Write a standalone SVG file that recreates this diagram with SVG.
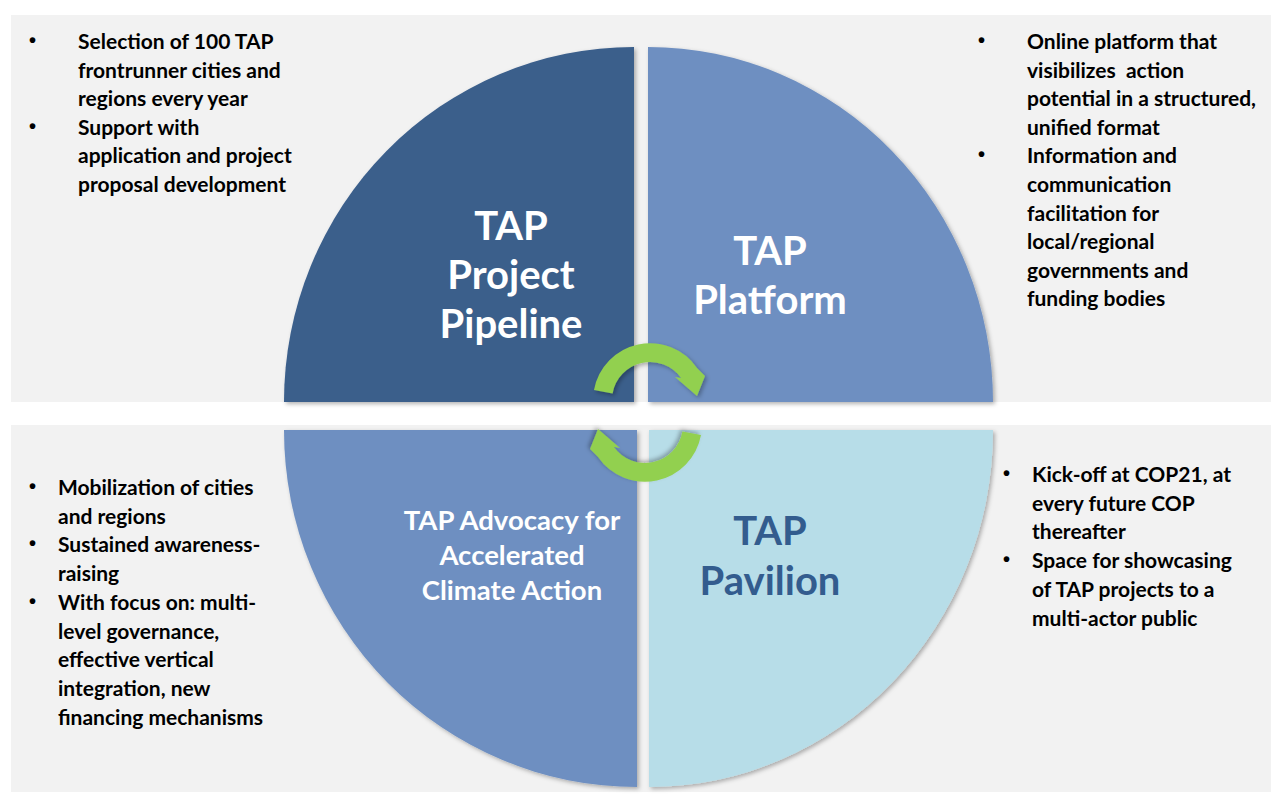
<svg xmlns="http://www.w3.org/2000/svg" width="1271" height="794" viewBox="0 0 1271 794">
<style>
.bg{fill:#F2F2F2}
.bul{font-family:Lato,"Liberation Sans",sans-serif;font-weight:bold;font-size:21px;fill:#000}
.dot{font-family:"Liberation Sans",sans-serif;font-weight:bold;font-size:20px;fill:#000}
.big{font-family:Lato,"Liberation Sans",sans-serif;font-weight:bold;font-size:40px;text-anchor:middle}
.mid{font-family:Lato,"Liberation Sans",sans-serif;font-weight:bold;font-size:27.5px;text-anchor:middle;fill:#fff}
.arrow{fill:#92D050}
</style>
<defs>
<filter id="sh" x="-10%" y="-10%" width="120%" height="120%">
<feDropShadow dx="2" dy="2" stdDeviation="2" flood-color="#000" flood-opacity="0.3"/>
</filter>
</defs>
<rect width="1271" height="794" fill="#fff"/>
<rect class="bg" x="11" y="15" width="1260" height="387"/>
<rect class="bg" x="11" y="425" width="1260" height="367"/>

<g id="pipeline">
<path d="M634,402 L284,402 A350 355 0 0 1 634,47 Z" fill="#3A5E8B" filter="url(#sh)"/>
<text class="big" fill="#fff"><tspan x="511" y="240">TAP</tspan><tspan x="511" y="289">Project</tspan><tspan x="511" y="338">Pipeline</tspan></text>
</g>
<g id="platform">
<path d="M648,402 L648,47 A345 355 0 0 1 993,402 Z" fill="#6E8FC1" filter="url(#sh)"/>
<text class="big" fill="#fff"><tspan x="770" y="265">TAP</tspan><tspan x="770" y="314">Platform</tspan></text>
</g>
<g id="advocacy">
<path d="M637,430 L637,787 A353 357 0 0 1 284,430 Z" fill="#6E8FC1" filter="url(#sh)"/>
<text class="mid"><tspan x="512" y="530">TAP Advocacy for</tspan><tspan x="512" y="565">Accelerated</tspan><tspan x="512" y="600">Climate Action</tspan></text>
</g>
<g id="pavilion">
<path d="M649,430 L993,430 A344 357 0 0 1 649,787 Z" fill="#B7DDE8" filter="url(#sh)"/>
<text class="big" fill="#335C8E"><tspan x="770" y="545">TAP</tspan><tspan x="770" y="595">Pavilion</tspan></text>
</g>

<g id="connectors">
<path class="arrow" filter="url(#sh)" d="M594,390 A57 57 0 0 1 697,368 L705,376 L697,396 L675,377 L681,378 A38 38 0 0 0 612.6,393.4 Z"/>
<path class="arrow" filter="url(#sh)" transform="rotate(180 647.5 412.5)" d="M594,390 A57 57 0 0 1 697,368 L705,376 L697,396 L675,377 L681,378 A38 38 0 0 0 612.6,393.4 Z"/>
</g>

<g id="pipeline-notes">
<text class="dot" x="29" y="47">•</text>
<text class="bul" x="78" y="49">Selection of 100 TAP</text>
<text class="bul" x="78" y="77.5">frontrunner cities and</text>
<text class="bul" x="78" y="106">regions every year</text>
<text class="dot" x="29" y="132.5">•</text>
<text class="bul" x="78" y="134.5">Support with</text>
<text class="bul" x="78" y="163">application and project</text>
<text class="bul" x="78" y="191.5">proposal development</text>
</g>
<g id="platform-notes">
<text class="dot" x="978" y="47">•</text>
<text class="bul" x="1027" y="49">Online platform that</text>
<text class="bul" x="1027" y="77.6" xml:space="preserve">visibilizes  action</text>
<text class="bul" x="1027" y="106.2">potential in a structured,</text>
<text class="bul" x="1027" y="134.8">unified format</text>
<text class="dot" x="978" y="161.4">•</text>
<text class="bul" x="1027" y="163.4">Information and</text>
<text class="bul" x="1027" y="192">communication</text>
<text class="bul" x="1027" y="220.6">facilitation for</text>
<text class="bul" x="1027" y="249.2">local/regional</text>
<text class="bul" x="1027" y="277.8">governments and</text>
<text class="bul" x="1027" y="306.4">funding bodies</text>
</g>
<g id="advocacy-notes">
<text class="dot" x="29" y="493">•</text>
<text class="bul" x="58" y="495">Mobilization of cities</text>
<text class="bul" x="58" y="523.7">and regions</text>
<text class="dot" x="29" y="550.4">•</text>
<text class="bul" x="58" y="552.4">Sustained awareness-</text>
<text class="bul" x="58" y="581.1">raising</text>
<text class="dot" x="29" y="607.8">•</text>
<text class="bul" x="58" y="609.8">With focus on: multi-</text>
<text class="bul" x="58" y="638.5">level governance,</text>
<text class="bul" x="58" y="667.2">effective vertical</text>
<text class="bul" x="58" y="695.9">integration, new</text>
<text class="bul" x="58" y="724.6">financing mechanisms</text>
</g>
<g id="pavilion-notes">
<text class="dot" x="1003" y="480">•</text>
<text class="bul" x="1032" y="482">Kick-off at COP21, at</text>
<text class="bul" x="1032" y="510.7">every future COP</text>
<text class="bul" x="1032" y="539.4">thereafter</text>
<text class="dot" x="1003" y="566.1">•</text>
<text class="bul" x="1032" y="568.1">Space for showcasing</text>
<text class="bul" x="1032" y="596.8">of TAP projects to a</text>
<text class="bul" x="1032" y="625.5">multi-actor public</text>
</g>
</svg>
